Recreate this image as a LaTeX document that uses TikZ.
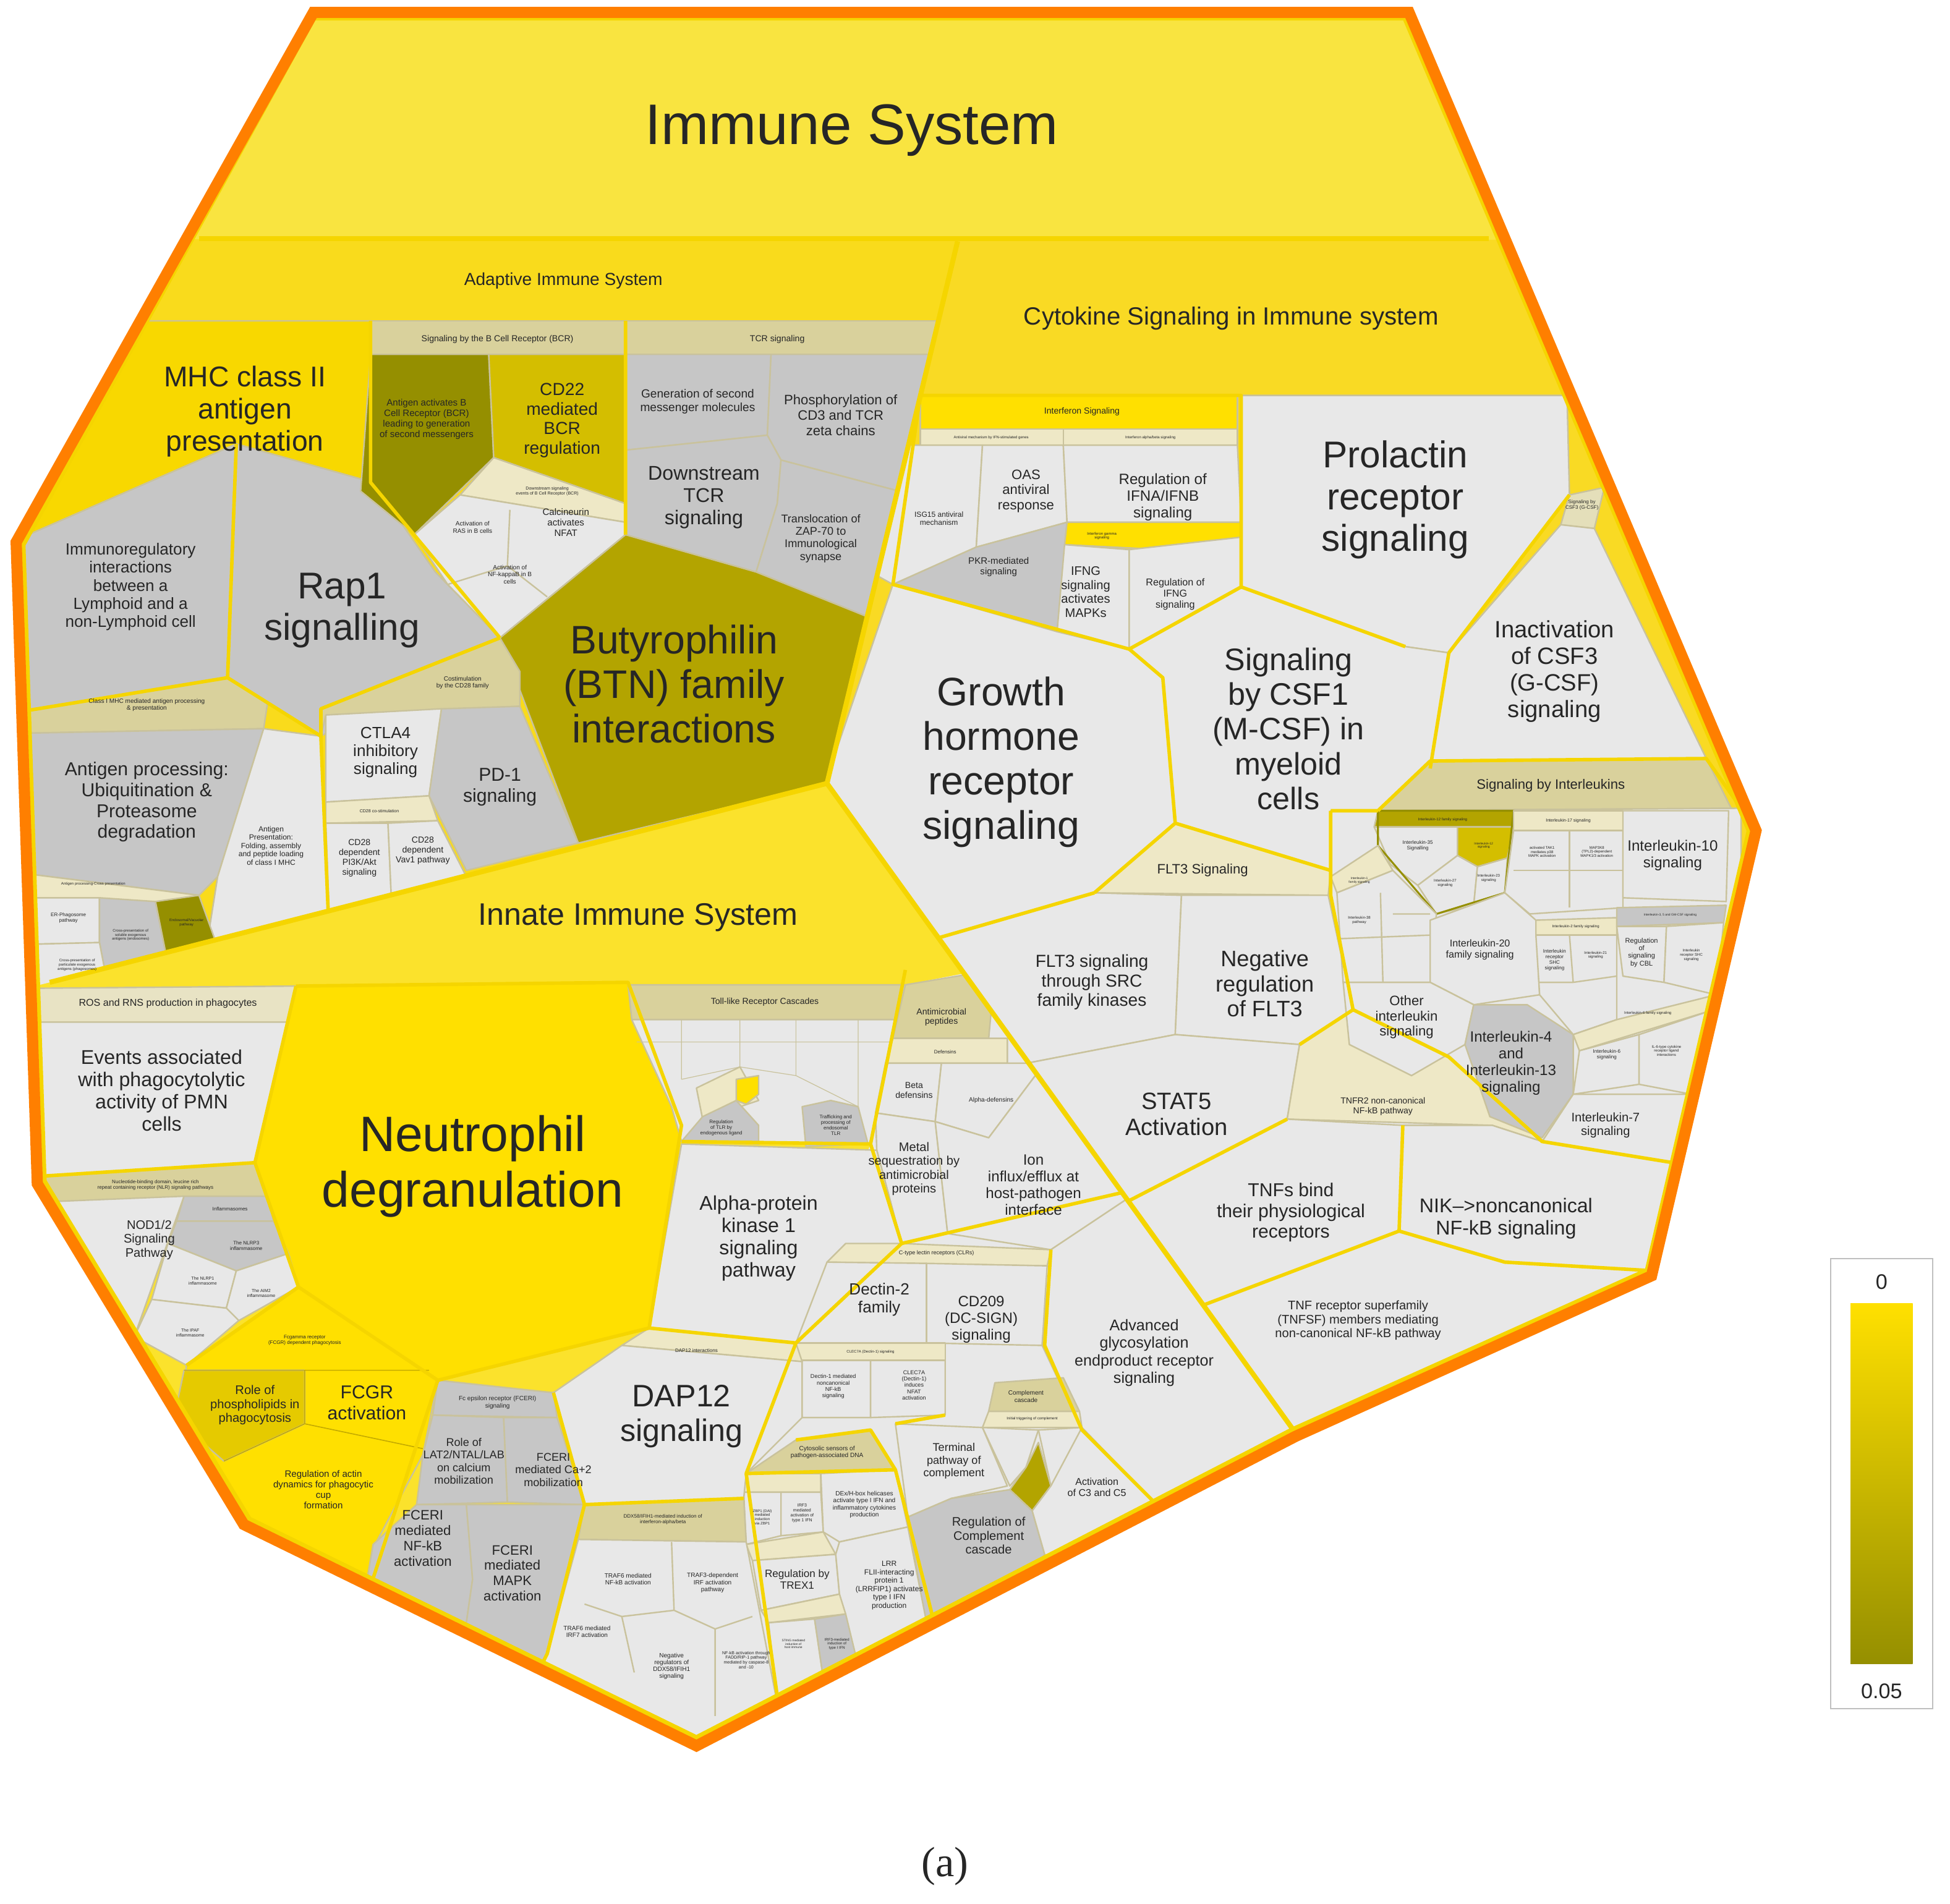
\documentclass[tikz,border=0pt]{standalone}
\usepackage{fontspec}
\setmainfont{Liberation Sans}
\newfontfamily\serfam{Liberation Serif}
\begin{document}
\newcommand\Fs[1]{\fontsize{#1}{#1}\selectfont\baselineskip=1.12\baselineskip}
\definecolor{LG}{HTML}{E8E8E8}
\definecolor{GR}{HTML}{C6C6C6}
\definecolor{TAN}{HTML}{D9D19C}
\definecolor{PALE}{HTML}{EEE8C6}
\definecolor{OLV}{HTML}{958F00}
\definecolor{OLV2}{HTML}{B3A400}
\definecolor{CDY}{HTML}{D4BE00}
\definecolor{YEL}{HTML}{FFE000}
\definecolor{MHY}{HTML}{F8D800}
\definecolor{TOPY}{HTML}{F9E440}
\definecolor{ADY}{HTML}{F9DB1C}
\definecolor{CYY}{HTML}{F9DA24}
\definecolor{INY}{HTML}{FBE22C}
\definecolor{YB}{HTML}{F5D500}
\definecolor{ORG}{HTML}{FF7F00}
\definecolor{EDGE}{HTML}{C9C29C}
\begin{tikzpicture}[x=1pt,y=-1pt,
  cell/.style={draw=EDGE,line width=1.2pt,line join=round},
  grp/.style={draw=YB,line width=2.8pt,line join=round},
  t/.style={align=center,text=black!85,inner sep=0pt},
  f/.style={font=\Fs{#1}},
  reg/.style={draw=YB,line width=4pt,line join=round}]
\useasboundingbox (0,0) rectangle (1568,1531);
\def\OUT{(252,14)--(1130,14)--(1407,668)--(1325,1022)--(1040,1150)--(560,1398)--(200,1222)--(35,950)--(18,438)--cycle}
\def\ADP{(0,192)--(770,194)--(665,630)--(40,790)--(0,800)--cycle}
\def\CYT{(770,194)--(1500,192)--(1500,1100)--(1040,1150)--(665,630)--cycle}
\def\INN{(0,800)--(40,790)--(665,630)--(1040,1150)--(600,1500)--(0,1500)--cycle}
\fill[TOPY] \OUT;
\begin{scope}
\clip \OUT;
\fill[ADY] \ADP;
\fill[CYY] \CYT;
\fill[INY] \INN;
% ================= ADAPTIVE =================
\begin{scope}
\clip \ADP;
\filldraw[cell,fill=MHY] (0,258)--(298,258)--(300,388)--(190,357)--(0,440)--cycle;
\filldraw[cell,fill=GR] (190,357)--(300,388)--(350,460)--(402,513)--(258,592)--(183,545)--cycle;
\filldraw[cell,fill=GR] (0,440)--(190,357)--(183,545)--(0,575)--cycle;
\filldraw[cell,fill=TAN] (298,258)--(503,258)--(503,285)--(298,285)--cycle;
\filldraw[cell,fill=OLV] (298,285)--(393,285)--(397,368)--(333,430)--(290,395)--cycle;
\filldraw[cell,fill=CDY] (393,285)--(503,285)--(503,405)--(397,368)--cycle;
\filldraw[cell,fill=PALE] (397,368)--(503,405)--(503,420)--(370,398)--cycle;
\filldraw[cell,fill=LG] (333,430)--(370,398)--(503,420)--(503,430)--(402,513)--(360,470)--cycle;
\draw[cell] (410,410)--(408,455)--(360,470) (408,455)--(440,480);
\filldraw[cell,fill=TAN] (503,258)--(760,258)--(760,285)--(503,285)--cycle;
\filldraw[cell,fill=GR] (503,285)--(620,285)--(617,350)--(503,362)--cycle;
\filldraw[cell,fill=GR] (620,285)--(780,285)--(780,410)--(628,370)--(617,350)--cycle;
\filldraw[cell,fill=GR] (503,362)--(617,350)--(628,370)--(625,405)--(608,460)--(503,430)--cycle;
\filldraw[cell,fill=GR] (628,370)--(780,410)--(780,520)--(700,497)--(608,460)--(625,405)--cycle;
\filldraw[cell,fill=OLV2] (402,513)--(503,430)--(608,460)--(700,497)--(665,630)--(465,678)--cycle;
\filldraw[cell,fill=TAN] (0,575)--(183,545)--(215,566)--(212,586)--(0,590)--cycle;
\filldraw[cell,fill=GR] (0,590)--(212,586)--(175,705)--(160,720)--(0,700)--cycle;
\filldraw[cell,fill=LG] (212,586)--(258,592)--(265,760)--(160,800)--(175,705)--cycle;
\filldraw[cell,fill=PALE] (0,700)--(160,720)--(150,728)--(0,722)--cycle;
\filldraw[cell,fill=LG] (0,722)--(80,722)--(80,758)--(0,760)--cycle;
\filldraw[cell,fill=GR] (80,722)--(125,725)--(140,800)--(90,810)--(80,758)--cycle;
\filldraw[cell,fill=OLV] (125,725)--(160,720)--(178,770)--(140,800)--cycle;
\filldraw[cell,fill=LG] (0,760)--(80,758)--(90,810)--(0,810)--cycle;
\filldraw[cell,fill=TAN] (258,592)--(258,570)--(402,513)--(418,540)--(418,568)--(262,575)--cycle;
\filldraw[cell,fill=LG] (262,575)--(355,570)--(345,640)--(262,645)--cycle;
\filldraw[cell,fill=GR] (355,570)--(418,568)--(465,678)--(375,700)--(345,640)--cycle;
\filldraw[cell,fill=PALE] (262,645)--(345,640)--(352,660)--(262,662)--cycle;
\filldraw[cell,fill=LG] (262,662)--(312,662)--(315,730)--(265,745)--cycle;
\filldraw[cell,fill=LG] (312,662)--(352,660)--(375,705)--(315,730)--cycle;
\draw[grp] (298,258)--(298,388)--(402,513) (503,258)--(503,430) (190,357)--(183,545)--(0,575) (183,545)--(258,592)--(265,760) (258,592)--(258,570)--(402,513);
\end{scope}
% ================= CYTOKINE =================
\begin{scope}
\clip \CYT;
\fill[LG] (660,640)--(1070,650)--(1400,650)--(1400,1100)--(1040,1160)--cycle;
\filldraw[cell,fill=YEL] (740,318)--(995,318)--(995,345)--(740,345)--cycle;
\filldraw[cell,fill=PALE] (740,345)--(855,345)--(855,358)--(740,358)--cycle;
\filldraw[cell,fill=PALE] (855,345)--(995,345)--(995,358)--(855,358)--cycle;
\filldraw[cell,fill=LG] (700,358)--(790,358)--(785,440)--(718,470)--(700,460)--cycle;
\filldraw[cell,fill=LG] (790,358)--(855,358)--(858,420)--(785,440)--cycle;
\filldraw[cell,fill=GR] (718,470)--(785,440)--(858,420)--(850,508)--cycle;
\filldraw[cell,fill=LG] (855,358)--(995,358)--(998,420)--(858,420)--cycle;
\filldraw[cell,fill=YEL] (858,420)--(998,420)--(998,432)--(935,442)--(856,438)--cycle;
\filldraw[cell,fill=LG] (856,438)--(908,442)--(908,522)--(850,508)--cycle;
\filldraw[cell,fill=LG] (908,442)--(998,432)--(998,472)--(908,522)--cycle;
\filldraw[cell,fill=LG] (998,318)--(1260,318)--(1262,398)--(1165,525)--(1130,520)--(998,472)--cycle;
\filldraw[cell,fill=TAN!70] (1262,398)--(1290,392)--(1282,425)--(1255,422)--cycle;
\filldraw[cell,fill=LG] (1165,525)--(1255,422)--(1282,425)--(1372,610)--(1150,618)--cycle;
\filldraw[cell,fill=LG] (718,470)--(850,508)--(908,522)--(935,545)--(945,662)--(880,718)--(700,770)--(660,640)--cycle;
\filldraw[cell,fill=LG] (908,522)--(998,472)--(1130,520)--(1165,525)--(1150,618)--(1110,650)--(1070,700)--(945,662)--(935,545)--cycle;
\filldraw[cell,fill=PALE] (945,662)--(1070,700)--(1068,720)--(880,718)--cycle;
\filldraw[cell,fill=LG] (700,770)--(880,718)--(950,720)--(945,832)--(800,860)--cycle;
\filldraw[cell,fill=LG] (950,720)--(1068,720)--(1088,812)--(1045,840)--(945,832)--cycle;
\filldraw[cell,fill=LG] (800,860)--(945,832)--(1045,840)--(1035,900)--(880,980)--cycle;
\filldraw[cell,fill=PALE] (1045,840)--(1088,812)--(1165,850)--(1240,918)--(1200,905)--(1035,900)--cycle;
\filldraw[cell,fill=LG] (880,980)--(1035,900)--(1128,905)--(1125,990)--(940,1060)--cycle;
\filldraw[cell,fill=LG] (1128,905)--(1200,905)--(1240,918)--(1345,935)--(1330,1022)--(1210,1015)--(1125,990)--cycle;
\filldraw[cell,fill=LG] (940,1060)--(1125,990)--(1210,1015)--(1340,1022)--(1040,1160)--(980,1100)--cycle;
\filldraw[cell,fill=TAN] (1150,612)--(1372,610)--(1392,650)--(1108,652)--cycle;
\filldraw[cell,fill=LG] (1070,652)--(1400,650)--(1400,940)--(1240,918)--(1165,850)--(1088,812)--(1070,720)--cycle;
\filldraw[cell,fill=OLV2] (1108,652)--(1217,652)--(1217,665)--(1105,665)--cycle;
\filldraw[cell,fill=LG] (1105,665)--(1172,665)--(1172,688)--(1140,712)--(1118,695)--cycle;
\filldraw[cell,fill=CDY] (1172,665)--(1217,665)--(1212,690)--(1188,697)--(1172,688)--cycle;
\filldraw[cell,fill=LG] (1140,712)--(1172,688)--(1188,697)--(1185,728)--(1155,735)--cycle;
\filldraw[cell,fill=LG] (1188,697)--(1212,690)--(1210,718)--(1185,728)--cycle;
\draw[draw=OLV,line width=1.5pt] (1108,652)--(1217,652)--(1210,718)--(1155,735)--(1108,680)--cycle;
\filldraw[cell,fill=PALE] (1217,652)--(1305,652)--(1305,668)--(1217,668)--cycle;
\filldraw[cell,fill=LG] (1217,668)--(1305,668)--(1305,730)--(1230,735)--(1210,718)--cycle;
\draw[cell] (1262,668)--(1262,730) (1217,700)--(1305,700);
\filldraw[cell,fill=LG] (1305,652)--(1390,652)--(1388,725)--(1305,722)--cycle;
\filldraw[cell,fill=PALE] (1070,705)--(1108,680)--(1120,700)--(1075,718)--cycle;
\filldraw[cell,fill=LG] (1075,718)--(1120,700)--(1155,735)--(1150,790)--(1080,790)--cycle;
\draw[cell] (1075,755)--(1150,752) (1110,718)--(1112,790) (1120,735)--(1150,735);
\filldraw[cell,fill=LG] (1150,740)--(1210,718)--(1235,740)--(1238,800)--(1185,808)--(1150,790)--cycle;
\filldraw[cell,fill=PALE] (1235,740)--(1300,738)--(1300,752)--(1235,752)--cycle;
\filldraw[cell,fill=LG] (1235,752)--(1300,752)--(1300,820)--(1265,832)--(1238,800)--cycle;
\draw[cell] (1262,752)--(1265,790)--(1300,785) (1238,790)--(1265,790);
\filldraw[cell,fill=GR] (1300,730)--(1388,728)--(1386,742)--(1300,745)--cycle;
\filldraw[cell,fill=LG] (1300,745)--(1340,745)--(1338,790)--(1305,785)--cycle;
\filldraw[cell,fill=LG] (1340,745)--(1386,742)--(1380,800)--(1338,790)--cycle;
\filldraw[cell,fill=LG] (1080,790)--(1150,790)--(1185,808)--(1178,840)--(1135,865)--(1085,840)--cycle;
\filldraw[cell,fill=GR] (1178,840)--(1185,808)--(1228,808)--(1265,832)--(1265,880)--(1240,915)--(1198,898)--cycle;
\filldraw[cell,fill=PALE] (1265,832)--(1300,820)--(1380,800)--(1378,812)--(1270,845)--cycle;
\filldraw[cell,fill=LG] (1270,845)--(1318,832)--(1318,872)--(1265,880)--cycle;
\filldraw[cell,fill=LG] (1318,832)--(1378,812)--(1360,880)--(1318,872)--cycle;
\filldraw[cell,fill=LG] (1265,880)--(1360,880)--(1345,935)--(1240,918)--cycle;
\draw[grp] (740,318)--(998,318)--(998,472)--(908,522)--(718,470)--(740,318);
\draw[grp] (1108,652)--(1150,612)--(1372,610)--(1400,650);
\draw[grp] (1070,652)--(1108,652) (1070,652)--(1070,720)--(1088,812)--(1165,850)--(1240,918)--(1345,935);
\draw[grp] (998,472)--(1130,520) (1165,525)--(1150,618) (945,662)--(1070,700) (880,718)--(945,662)--(935,545)--(908,522) (700,770)--(880,718) (1045,840)--(1088,812) (1035,900)--(880,980) (1128,905)--(1125,990) (940,1060)--(1125,990)--(1210,1015)--(1330,1022) (1165,525)--(1262,398);
\end{scope}
% ================= INNATE =================
\begin{scope}
\clip \INN;
\fill[LG] (728,792)--(790,780)--(1060,1150)--(700,1450)--(560,1400)--(440,1330)--(470,1210)--(600,1185)--(640,1080)--(700,920)--cycle;
\filldraw[cell,fill=TAN!60] (0,795)--(238,793)--(238,822)--(0,822)--cycle;
\filldraw[cell,fill=LG] (0,822)--(238,822)--(205,935)--(0,948)--cycle;
\filldraw[cell,fill=YEL] (238,793)--(505,790)--(548,905)--(522,1068)--(352,1110)--(240,1035)--(205,935)--cycle;
\filldraw[cell,fill=TAN] (0,948)--(205,935)--(215,962)--(0,968)--cycle;
\filldraw[cell,fill=LG] (0,968)--(148,962)--(108,1075)--(60,1080)--cycle;
\filldraw[cell,fill=GR] (148,962)--(215,962)--(220,982)--(142,982)--cycle;
\filldraw[cell,fill=GR] (142,982)--(220,982)--(232,1008)--(190,1022)--(135,1000)--cycle;
\filldraw[cell,fill=LG] (135,1000)--(190,1022)--(182,1052)--(122,1045)--cycle;
\filldraw[cell,fill=LG] (190,1022)--(232,1008)--(240,1035)--(192,1062)--(182,1052)--cycle;
\filldraw[cell,fill=LG] (122,1045)--(182,1052)--(192,1062)--(150,1098)--(108,1075)--cycle;
\filldraw[cell,fill=YEL] (150,1098)--(240,1035)--(352,1110)--(340,1170)--(300,1245)--(290,1300)--(150,1260)--(140,1160)--cycle;
\filldraw[cell,fill=YEL!90!black] (148,1102)--(245,1102)--(245,1145)--(180,1175)--(140,1140)--cycle;
\draw[cell,draw=YB!80!black,line width=0.8pt] (148,1102)--(345,1102) (245,1102)--(245,1145)--(340,1165) (245,1145)--(180,1175);
\filldraw[cell,fill=GR] (352,1110)--(445,1120)--(448,1140)--(348,1138)--cycle;
\filldraw[cell,fill=GR] (348,1138)--(405,1140)--(408,1208)--(335,1210)--(340,1170)--cycle;
\filldraw[cell,fill=GR] (405,1140)--(448,1140)--(470,1210)--(408,1208)--cycle;
\filldraw[cell,fill=GR] (335,1210)--(375,1210)--(380,1270)--(370,1340)--(290,1300)--(300,1242)--cycle;
\filldraw[cell,fill=GR] (375,1210)--(470,1210)--(440,1330)--(420,1370)--(370,1340)--(380,1270)--cycle;
\filldraw[cell,fill=TAN] (505,792)--(728,792)--(724,820)--(508,820)--cycle;
\filldraw[cell,fill=LG] (508,820)--(724,820)--(700,920)--(548,918)--(540,890)--cycle;
\draw[cell,line width=0.6pt] (548,820)--(548,868) (595,820)--(595,858) (640,820)--(640,865) (690,820)--(690,890) (512,838)--(724,838) (548,868)--(595,858)--(640,865)--(690,890);
\filldraw[cell,fill=PALE] (560,875)--(595,858)--(610,885)--(565,900)--cycle;
\filldraw[cell,fill=YEL] (592,868)--(610,865)--(610,880)--(600,888)--(592,885)--cycle;
\filldraw[cell,fill=GR] (548,918)--(565,898)--(592,885)--(610,905)--(610,920)--cycle;
\filldraw[cell,fill=GR] (645,890)--(668,885)--(690,890)--(698,920)--(648,922)--cycle;
\filldraw[cell,fill=TAN] (728,792)--(800,780)--(795,835)--(718,835)--cycle;
\filldraw[cell,fill=PALE] (718,835)--(810,835)--(810,855)--(712,855)--cycle;
\filldraw[cell,fill=LG] (712,855)--(757,855)--(752,902)--(704,895)--cycle;
\filldraw[cell,fill=LG] (757,855)--(840,855)--(795,915)--(752,902)--cycle;
\filldraw[cell,fill=LG] (704,895)--(752,902)--(762,992)--(725,1000)--(705,925)--cycle;
\filldraw[cell,fill=LG] (752,902)--(795,915)--(840,855)--(920,955)--(845,1005)--(762,992)--cycle;
\filldraw[cell,fill=LG] (548,920)--(705,925)--(725,1000)--(640,1080)--(522,1068)--cycle;
\filldraw[cell,fill=PALE] (725,1000)--(845,1005)--(842,1018)--(665,1015)--(680,1000)--cycle;
\filldraw[cell,fill=LG] (665,1015)--(745,1016)--(745,1080)--(640,1080)--cycle;
\filldraw[cell,fill=LG] (745,1016)--(842,1018)--(838,1082)--(745,1080)--cycle;
\filldraw[cell,fill=PALE] (640,1080)--(760,1080)--(760,1094)--(640,1094)--cycle;
\filldraw[cell,fill=LG] (640,1094)--(700,1094)--(700,1140)--(645,1140)--cycle;
\filldraw[cell,fill=LG] (700,1094)--(760,1094)--(760,1138)--(700,1140)--cycle;
\filldraw[cell,fill=LG] (845,1005)--(920,955)--(1060,1150)--(930,1210)--(870,1150)--(838,1082)--cycle;
\filldraw[cell,fill=TAN] (800,1112)--(855,1108)--(868,1135)--(795,1135)--cycle;
\filldraw[cell,fill=PALE] (795,1135)--(868,1135)--(870,1148)--(790,1148)--cycle;
\filldraw[cell,fill=LG] (720,1145)--(790,1148)--(810,1195)--(765,1205)--(730,1220)--cycle;
\filldraw[cell,fill=LG] (790,1148)--(835,1150)--(825,1180)--(812,1195)--cycle;
\filldraw[cell,fill=OLV2] (825,1180)--(835,1160)--(845,1195)--(830,1215)--(812,1198)--cycle;
\filldraw[cell,fill=LG] (835,1150)--(870,1148)--(855,1180)--(845,1195)--cycle;
\filldraw[cell,fill=GR] (730,1220)--(765,1205)--(812,1198)--(830,1215)--(840,1250)--(790,1320)--(745,1320)--(740,1280)--cycle;
\filldraw[cell,fill=LG] (870,1148)--(930,1210)--(1000,1200)--(900,1320)--(840,1250)--(830,1215)--(845,1195)--cycle;
\filldraw[cell,fill=TAN] (640,1158)--(700,1150)--(720,1182)--(600,1185)--cycle;
\filldraw[cell,fill=PALE] (600,1185)--(660,1185)--(660,1200)--(598,1200)--cycle;
\filldraw[cell,fill=LG] (598,1200)--(628,1200)--(628,1235)--(600,1242)--cycle;
\filldraw[cell,fill=LG] (628,1200)--(660,1200)--(662,1232)--(628,1235)--cycle;
\filldraw[cell,fill=LG] (660,1185)--(720,1182)--(730,1228)--(675,1240)--(662,1232)--cycle;
\filldraw[cell,fill=PALE] (600,1242)--(662,1232)--(672,1250)--(605,1255)--cycle;
\filldraw[cell,fill=LG] (605,1255)--(672,1250)--(675,1282)--(612,1295)--cycle;
\filldraw[cell,fill=LG] (675,1240)--(730,1228)--(750,1330)--(690,1360)--(675,1282)--(672,1250)--cycle;
\filldraw[cell,fill=PALE] (612,1295)--(675,1282)--(680,1298)--(618,1305)--cycle;
\filldraw[cell,fill=LG] (618,1305)--(655,1302)--(665,1370)--(625,1370)--cycle;
\filldraw[cell,fill=GR] (655,1302)--(680,1298)--(695,1360)--(665,1370)--cycle;
\filldraw[cell,fill=PALE] (522,1068)--(640,1080)--(645,1095)--(500,1082)--cycle;
\filldraw[cell,fill=LG] (445,1120)--(500,1082)--(645,1095)--(645,1140)--(600,1185)--(598,1205)--(470,1210)--cycle;
\filldraw[cell,fill=TAN] (470,1210)--(598,1205)--(600,1240)--(465,1238)--cycle;
\filldraw[cell,fill=LG] (465,1238)--(600,1240)--(625,1370)--(560,1410)--(420,1370)--(440,1330)--cycle;
\draw[cell] (540,1240)--(542,1295)--(500,1300)--(470,1290) (542,1295)--(575,1310)--(605,1300) (500,1300)--(510,1345) (575,1310)--(575,1380);
\draw[grp] (238,793)--(205,935)--(0,948) (238,793)--(505,790)--(548,905)--(522,1068)--(352,1110)--(240,1035)--(205,935);
\draw[grp] (240,1035)--(150,1098) (352,1110)--(290,1300) (728,780)--(700,920)--(548,918) (700,920)--(725,1000)--(640,1080)--(522,1068) (725,1000)--(920,955) (640,1080)--(600,1185)--(720,1182)--(760,1340) (720,1182)--(700,1150)--(640,1158) (445,1120)--(470,1210)--(440,1330)--(420,1370) (470,1210)--(598,1205) (845,1005)--(840,1082)--(870,1150)--(930,1210) (720,1145)--(760,1138);
\draw[grp] (600,1185)--(630,1400);
\end{scope}
\end{scope}
\draw[reg] (160,192)--(1197,192);
\draw[reg] (770,194)--(665,630)--(1040,1150);
\draw[reg] (40,790)--(665,630);
\draw[draw=YB,line width=5pt,line join=round] \OUT;
\draw[draw=ORG,line width=9pt,line join=miter] (252,10)--(1133,10)--(1412,668)--(1328,1026)--(1042,1155)--(560,1404)--(196,1226)--(30,952)--(13,436)--cycle;
% ================= LABELS =================
\node[t,f=46] (is) at (685,105) {Immune System};
\node[t,f=14] (ais) at (453,226) {Adaptive Immune System};
\node[t,f=20] (cyt) at (990,256) {Cytokine Signaling in Immune system};
\node[t,f=25] (inn) at (513,738) {Innate Immune System};
\node[t,f=23] (mhc2) at (197,331) {MHC class II\\antigen\\presentation};
\node[t,f=13] (imr) at (105,472) {Immunoregulatory\\interactions\\between a\\Lymphoid and a\\non-Lymphoid cell};
\node[t,f=30] (rap1) at (275,491) {Rap1\\signalling};
\node[t,f=7] (bcr) at (400,273) {Signaling by the B Cell Receptor (BCR)};
\node[t,f=7.5] (aab) at (343,337) {Antigen activates B\\Cell Receptor (BCR)\\leading to generation\\of second messengers};
\node[t,f=14] (cd22) at (452,338) {CD22\\mediated\\BCR\\regulation};
\node[t,f=3.5] (dse) at (440,395) {Downstream signaling\\events of B Cell Receptor (BCR)};
\node[t,f=5] (ras) at (380,424) {Activation of\\RAS in B cells};
\node[t,f=7.5] (cal) at (455,420) {Calcineurin\\activates\\NFAT};
\node[t,f=5] (nfk) at (410,462) {Activation of\\NF-kappaB in B\\cells};
\node[t,f=7] (tcr) at (625,273) {TCR signaling};
\node[t,f=9.5] (gsm) at (561,323) {Generation of second\\messenger molecules};
\node[t,f=11] (pcd) at (676,334) {Phosphorylation of\\CD3 and TCR\\zeta chains};
\node[t,f=16] (dtcr) at (566,400) {Downstream\\TCR\\signaling};
\node[t,f=9] (zap) at (660,433) {Translocation of\\ZAP-70 to\\Immunological\\synapse};
\node[t,f=32] (btn) at (542,550) {Butyrophilin\\(BTN) family\\interactions};
\node[t,f=5] (c1m) at (118,567) {Class I MHC mediated antigen processing\\\& presentation};
\node[t,f=15] (apu) at (118,645) {Antigen processing:\\Ubiquitination \&\\Proteasome\\degradation};
\node[t,f=6] (apf) at (218,680) {Antigen\\Presentation:\\Folding, assembly\\and peptide loading\\of class I MHC};
\node[t,f=3] (oth) at (75,711) {Antigen processing-Cross presentation};
\node[t,f=4] (erp) at (55,738) {ER-Phagosome\\pathway};
\node[t,f=3] (csol) at (105,752) {Cross-presentation of\\soluble exogenous\\antigens (endosomes)};
\node[t,f=3] (endo) at (150,742) {Endosomal/Vacuolar\\pathway};
\node[t,f=3] (cpar) at (62,776) {Cross-presentation of\\particulate exogenous\\antigens (phagosomes)};
\node[t,f=5] (cost) at (372,549) {Costimulation\\by the CD28 family};
\node[t,f=13] (ctla) at (310,605) {CTLA4\\inhibitory\\signaling};
\node[t,f=15] (pd1) at (402,633) {PD-1\\signaling};
\node[t,f=3.5] (cd28) at (305,652) {CD28 co-stimulation};
\node[t,f=7] (pi3k) at (289,690) {CD28\\dependent\\PI3K/Akt\\signaling};
\node[t,f=7] (vav) at (340,684) {CD28\\dependent\\Vav1 pathway};
\node[t,f=7] (ifn) at (870,331) {Interferon Signaling};
\node[t,f=3] (avm) at (797,352) {Antiviral mechanism by IFN-stimulated genes};
\node[t,f=3] (iab) at (925,352) {Interferon alpha/beta signaling};
\node[t,f=6] (isg) at (755,417) {ISG15 antiviral\\mechanism};
\node[t,f=11] (oas) at (825,395) {OAS\\antiviral\\response};
\node[t,f=7.5] (pkr) at (803,456) {PKR-mediated\\signaling};
\node[t,f=12] (rif) at (935,400) {Regulation of\\IFNA/IFNB\\signaling};
\node[t,f=3] (igs) at (886,431) {Interferon gamma\\signaling};
\node[t,f=10] (ifg) at (873,476) {IFNG\\signaling\\activates\\MAPKs};
\node[t,f=8] (rig) at (945,478) {Regulation of\\IFNG\\signaling};
\node[t,f=30] (prl) at (1122,402) {Prolactin\\receptor\\signaling};
\node[t,f=4] (csf3s) at (1272,406) {Signaling by\\CSF3 (G-CSF)};
\node[t,f=19] (icsf3) at (1250,540) {Inactivation\\of CSF3\\(G-CSF)\\signaling};
\node[t,f=32] (gh) at (805,613) {Growth\\hormone\\receptor\\signaling};
\node[t,f=25] (csf1) at (1036,586) {Signaling\\by CSF1\\(M-CSF) in\\myeloid\\cells};
\node[t,f=11] (flt3) at (967,700) {FLT3 Signaling};
\node[t,f=14] (fsrc) at (878,790) {FLT3 signaling\\through SRC\\family kinases};
\node[t,f=18] (nflt) at (1017,791) {Negative\\regulation\\of FLT3};
\node[t,f=19] (stat5) at (946,896) {STAT5\\Activation};
\node[t,f=7] (tnfr2) at (1112,890) {TNFR2 non-canonical\\NF-kB pathway};
\node[t,f=15] (tnfb) at (1038,975) {TNFs bind\\their physiological\\receptors};
\node[t,f=16] (nik) at (1211,980) {NIK-->noncanonical\\NF-kB signaling};
\node[t,f=10] (tnfs) at (1092,1062) {TNF receptor superfamily\\(TNFSF) members mediating\\non-canonical NF-kB pathway};
\node[t,f=11] (sbi) at (1247,632) {Signaling by Interleukins};
\node[t,f=3] (il12f) at (1160,659) {Interleukin-12 family signaling};
\node[t,f=4] (il35) at (1140,680) {Interleukin-35\\Signalling};
\node[t,f=2.5] (il12s) at (1193,680) {Interleukin-12\\signaling};
\node[t,f=3] (il27) at (1162,710) {Interleukin-27\\signaling};
\node[t,f=3] (il23) at (1197,706) {Interleukin-23\\signaling};
\node[t,f=3.5] (il17) at (1261,660) {Interleukin-17 signaling};
\node[t,f=3] (at1) at (1240,685) {activated TAK1\\mediates p38\\MAPK activation};
\node[t,f=3] (at2) at (1284,685) {MAP3K8\\(TPL2)-dependent\\MAPK1/3 activation};
\node[t,f=12] (il10) at (1345,688) {Interleukin-10\\signaling};
\node[t,f=2.5] (il1f) at (1093,708) {Interleukin-1\\family signaling};
\node[t,f=3] (il38) at (1093,740) {Interleukin-38\\pathway};
\node[t,f=8] (il20) at (1190,764) {Interleukin-20\\family signaling};
\node[t,f=3] (il2f) at (1267,745) {Interleukin-2 family signaling};
\node[t,f=4] (ilshc) at (1250,772) {Interleukin\\receptor\\SHC\\signaling};
\node[t,f=3] (il21) at (1283,768) {Interleukin-21\\signaling};
\node[t,f=2.5] (cblh) at (1343,736) {Interleukin-3, 5 and GM-CSF signaling};
\node[t,f=5.5] (cbl) at (1320,766) {Regulation\\of\\signaling\\by CBL};
\node[t,f=3] (ilrs) at (1360,768) {Interleukin\\receptor SHC\\signaling};
\node[t,f=11] (oil) at (1131,818) {Other\\interleukin\\signaling};
\node[t,f=12] (il413) at (1215,855) {Interleukin-4\\and\\Interleukin-13\\signaling};
\node[t,f=3] (il6f) at (1325,815) {Interleukin-6 family signaling};
\node[t,f=4] (il6) at (1292,848) {Interleukin-6\\signaling};
\node[t,f=3] (il6r) at (1340,845) {IL-6-type cytokine\\receptor ligand\\interactions};
\node[t,f=10] (il7) at (1291,905) {Interleukin-7\\signaling};
\node[t,f=8] (ros) at (135,807) {ROS and RNS production in phagocytes};
\node[t,f=16] (pmn) at (130,877) {Events associated\\with phagocytolytic\\activity of PMN\\cells};
\node[t,f=40] (neu) at (380,938) {Neutrophil\\degranulation};
\node[t,f=4] (nlr) at (125,953) {Nucleotide-binding domain, leucine rich\\repeat containing receptor (NLR) signaling pathways};
\node[t,f=10] (nod) at (120,997) {NOD1/2\\Signaling\\Pathway};
\node[t,f=4] (infl) at (185,972) {Inflammasomes};
\node[t,f=4] (nlrp3) at (198,1002) {The NLRP3\\inflammasome};
\node[t,f=3.5] (nlrp1) at (163,1030) {The NLRP1\\inflammasome};
\node[t,f=3.5] (aim2) at (210,1040) {The AIM2\\inflammasome};
\node[t,f=3.5] (ipaf) at (153,1072) {The IPAF\\inflammasome};
\node[t,f=4] (fcgrp) at (245,1078) {Fcgamma receptor\\(FCGR) dependent phagocytosis};
\node[t,f=10] (phos) at (205,1130) {Role of\\phospholipids in\\phagocytosis};
\node[t,f=15] (fcgr) at (295,1128) {FCGR\\activation};
\node[t,f=7.5] (actin) at (260,1198) {Regulation of actin\\dynamics for phagocytic\\cup\\formation};
\node[t,f=5] (fcer) at (400,1128) {Fc epsilon receptor (FCERI)\\signaling};
\node[t,f=9] (lat) at (373,1175) {Role of\\LAT2/NTAL/LAB\\on calcium\\mobilization};
\node[t,f=9] (ca) at (445,1182) {FCERI\\mediated Ca+2\\mobilization};
\node[t,f=11] (nfkb) at (340,1237) {FCERI\\mediated\\NF-kB\\activation};
\node[t,f=11] (mapk) at (412,1265) {FCERI\\mediated\\MAPK\\activation};
\node[t,f=7] (tlr) at (615,806) {Toll-like Receptor Cascades};
\node[t,f=4] (rtlr) at (580,907) {Regulation\\of TLR by\\endogenous ligand};
\node[t,f=4] (trtlr) at (672,905) {Trafficking and\\processing of\\endosomal\\TLR};
\node[t,f=7] (amp) at (757,818) {Antimicrobial\\peptides};
\node[t,f=4] (def) at (760,846) {Defensins};
\node[t,f=7] (bdef) at (735,877) {Beta\\defensins};
\node[t,f=5] (adef) at (797,885) {Alpha-defensins};
\node[t,f=10] (metal) at (735,940) {Metal\\sequestration by\\antimicrobial\\proteins};
\node[t,f=12] (ion) at (831,953) {Ion\\influx/efflux at\\host-pathogen\\interface};
\node[t,f=16] (alpha) at (610,996) {Alpha-protein\\kinase 1\\signaling\\pathway};
\node[t,f=4.5] (clr) at (753,1008) {C-type lectin receptors (CLRs)};
\node[t,f=13] (dec2) at (707,1045) {Dectin-2\\family};
\node[t,f=12] (cd209) at (789,1061) {CD209\\(DC-SIGN)\\signaling};
\node[t,f=3] (clec) at (700,1087) {CLEC7A (Dectin-1) signaling};
\node[t,f=4.5] (dec1) at (670,1115) {Dectin-1 mediated\\noncanonical\\NF-kB\\signaling};
\node[t,f=4.5] (clecn) at (735,1114) {CLEC7A\\(Dectin-1)\\induces\\NFAT\\activation};
\node[t,f=12.5] (age) at (920,1088) {Advanced\\glycosylation\\endproduct receptor\\signaling};
\node[t,f=5] (comp) at (825,1123) {Complement\\cascade};
\node[t,f=3] (itc) at (830,1141) {Initial triggering of complement};
\node[t,f=9] (term) at (767,1175) {Terminal\\pathway of\\complement};
\node[t,f=10] (rcc) at (795,1235) {Regulation of\\Complement\\cascade};
\node[t,f=8] (c35) at (882,1196) {Activation\\of C3 and C5};
\node[t,f=5] (cyto) at (665,1168) {Cytosolic sensors of\\pathogen-associated DNA};
\node[t,f=3] (zbp) at (613,1220) {ZBP1 (DAI)\\mediated\\induction\\via ZBP1};
\node[t,f=3.5] (irf3) at (645,1217) {IRF3\\mediated\\activation of\\type 1 IFN};
\node[t,f=5] (dex) at (695,1210) {DEx/H-box helicases\\activate type I IFN and\\inflammatory cytokines\\production};
\node[t,f=8.5] (trex) at (641,1270) {Regulation by\\TREX1};
\node[t,f=6] (lrr) at (715,1275) {LRR\\FLII-interacting\\protein 1\\(LRRFIP1) activates\\type I IFN\\production};
\node[t,f=3] (irfm) at (673,1322) {IRF3-mediated\\induction of\\type I IFN};
\node[t,f=2.5] (stg) at (638,1322) {STING mediated\\induction of\\host immune};
\node[t,f=25] (dap) at (548,1139) {DAP12\\signaling};
\node[t,f=4] (dapi) at (560,1086) {DAP12 interactions};
\node[t,f=4] (ddx) at (533,1222) {DDX58/IFIH1-mediated induction of\\interferon-alpha/beta};
\node[t,f=5] (tr6) at (505,1270) {TRAF6 mediated\\NF-kB activation};
\node[t,f=5] (tr3) at (573,1273) {TRAF3-dependent\\IRF activation\\pathway};
\node[t,f=5] (tr7) at (472,1312) {TRAF6 mediated\\IRF7 activation};
\node[t,f=5] (negr) at (540,1340) {Negative\\regulators of\\DDX58/IFIH1\\signaling};
\node[t,f=3.5] (fadd) at (600,1335) {NF-kB activation through\\FADD/RIP-1 pathway\\mediated by caspase-8\\and -10};
\filldraw[draw=black!25,fill=white,line width=1pt] (1472,1012) rectangle (1554,1374);
\shade[top color=YEL,bottom color=OLV] (1488,1048) rectangle (1538,1338);
\node[t,f=17] (c0) at (1513,1031) {0};
\node[t,f=17] (c5) at (1513,1360) {0.05};
\node[t,font=\serfam\Fs{34}] (cap) at (760,1501) {(a)};
\end{tikzpicture}
\end{document}
